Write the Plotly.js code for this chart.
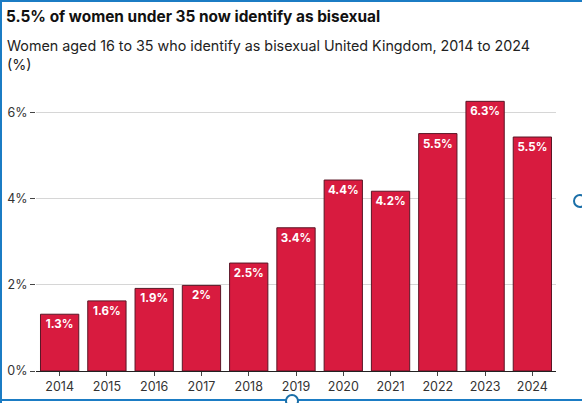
<!DOCTYPE html>
<html>
<head>
<meta charset="utf-8">
<script src="https://cdn.plot.ly/plotly-3.0.1.min.js"></script>
<style>
  body { margin: 0; background: #fff; }
  #wrap { position: relative; width: 582px; height: 403px; overflow: hidden; }
  #chart { width: 582px; height: 403px; }
  .edge { position: absolute; background: #1b7cc4; pointer-events: none; }
  .handle { position: absolute; width: 10px; height: 10px; border: 2px solid #1b6fa8;
            border-radius: 50%; background: #fff; pointer-events: none; }
</style>
</head>
<body>
<div id="wrap">
  <div id="chart"></div>
  <div class="edge" style="left:0;top:0;width:2px;height:403px"></div>
  <div class="edge" style="left:0;top:0;width:582px;height:2px"></div>
  <div class="edge" style="left:0;top:399px;width:582px;height:2px"></div>
  <div class="handle" style="left:285px;top:394px"></div>
  <div class="handle" style="left:573px;top:194px"></div>
</div>
<script>
// years and share of women 16-35 identifying as bisexual (%)
let years = ["2014", "2015", "2016", "2017", "2018", "2019", "2020", "2021", "2022", "2023", "2024"];
let shares = [1.32, 1.63, 1.92, 1.99, 2.51, 3.33, 4.44, 4.18, 5.52, 6.27, 5.44];
let labels = ["1.3%", "1.6%", "1.9%", "2%", "2.5%", "3.4%", "4.4%", "4.2%", "5.5%", "6.3%", "5.5%"];
let yTicks = [0, 2, 4, 6];

let trace1 = {
  x: years,
  y: shares,
  type: "bar",
  text: labels,
  textposition: "inside",
  insidetextanchor: "end",
  textangle: 0,
  textfont: { family: "Inter, sans-serif", size: 11.5, color: "#ffffff", weight: 700 },
  marker: { color: "#d81b3f", line: { color: "#5a1626", width: 1 } },
  hoverinfo: "skip"
};

let layout = {
  width: 582,
  height: 403,
  margin: { l: 36, r: 26, t: 88, b: 32 },
  paper_bgcolor: "#ffffff",
  plot_bgcolor: "#ffffff",
  font: { family: "Inter, sans-serif", color: "#333333" },
  bargap: 0.19,
  showlegend: false,
  title: {
    text: "<b>5.5% of women under 35 now identify as bisexual</b>",
    font: { family: "Inter, sans-serif", size: 15.4, color: "#111111" },
    x: 6 / 582,
    xanchor: "left",
    xref: "container",
    yref: "container",
    y: 1 - 11 / 403,
    yanchor: "top"
  },
  annotations: [{
    text: "Women aged 16 to 35 who identify as bisexual United Kingdom, 2014 to 2024<br>(%)",
    xref: "paper",
    yref: "paper",
    x: -31 / 520,
    y: 1 + 53 / 283,
    xanchor: "left",
    yanchor: "top",
    align: "left",
    showarrow: false,
    font: { family: "Inter, sans-serif", size: 14.3, color: "#222222" }
  }],
  xaxis: {
    type: "category",
    showline: true,
    linecolor: "#222222",
    linewidth: 1,
    ticks: "outside",
    ticklen: 4,
    tickcolor: "#444444",
    tickfont: { size: 12.5, color: "#333333" },
    showgrid: false,
    fixedrange: true
  },
  yaxis: {
    range: [0, 6.58],
    tickvals: yTicks,
    ticktext: yTicks.map(function (v) { return v + "%"; }),
    ticks: "outside",
    ticklen: 5,
    tickcolor: "#444444",
    tickfont: { size: 12.5, color: "#333333" },
    showgrid: true,
    gridcolor: "#d6d6d6",
    gridwidth: 1,
    zeroline: false,
    showline: false,
    fixedrange: true
  }
};

Plotly.newPlot("chart", [trace1], layout, { displayModeBar: false, staticPlot: true });
</script>
</body>
</html>
